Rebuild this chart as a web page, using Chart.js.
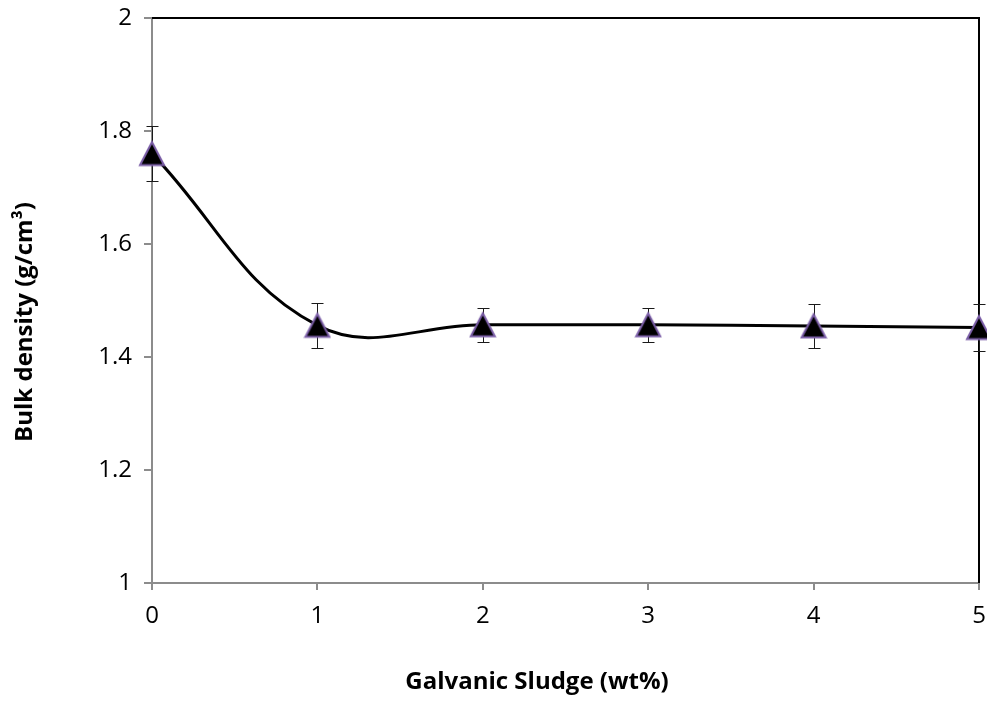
<!DOCTYPE html>
<html>
<head>
<meta charset="utf-8">
<script src="https://cdn.jsdelivr.net/npm/chart.js@4.4.0/dist/chart.umd.min.js"></script>
<style>
  html, body { margin: 0; padding: 0; background: #fff; }
</style>
</head>
<body>
<canvas id="myChart" width="987" height="704"></canvas>
<script>
// 데이터
const sludge = [0, 1, 2, 3, 4, 5];
const density = [1.760, 1.456, 1.457, 1.457, 1.455, 1.452];
const densityErr = [0.049, 0.040, 0.030, 0.030, 0.039, 0.041];
const xTicks = ['0', '1', '2', '3', '4', '5'];
const yTicks = ['1', '1.2', '1.4', '1.6', '1.8', '2'];
const xTitle = 'Galvanic Sludge (wt%)';
const yTitle = 'Bulk density (g/cm³)';

// 삼각형 마커 (검정 채움, 보라 테두리)
function makeTriangle() {
	const c = document.createElement('canvas');
	c.width = 28;
	c.height = 28;
	const g = c.getContext('2d');
	g.beginPath();
	g.moveTo(14, 2.5);
	g.lineTo(26, 25.5);
	g.lineTo(2, 25.5);
	g.closePath();
	g.fillStyle = '#000000';
	g.fill();
	g.lineWidth = 2;
	g.strokeStyle = '#7b5ea7';
	g.stroke();
	return c;
}

// 오차 막대 + 위/오른쪽 테두리
const errorBars = {
	id: 'errorBars',
	beforeDatasetsDraw(chart) {
		const { ctx, chartArea, scales: { x, y } } = chart;
		ctx.save();
		ctx.strokeStyle = '#000000';
		ctx.lineWidth = 2;
		ctx.beginPath();
		ctx.moveTo(chartArea.left, chartArea.top);
		ctx.lineTo(chartArea.right, chartArea.top);
		ctx.lineTo(chartArea.right, chartArea.bottom);
		ctx.stroke();

		ctx.strokeStyle = '#1a1a1a';
		ctx.lineWidth = 1;
		sludge.forEach(function(v, i) {
			const px = Math.round(x.getPixelForValue(v)) + 0.5;
			const top = Math.round(y.getPixelForValue(density[i] + densityErr[i])) + 0.5;
			const bot = Math.round(y.getPixelForValue(density[i] - densityErr[i])) + 0.5;
			ctx.beginPath();
			ctx.moveTo(px, top); ctx.lineTo(px, bot);
			ctx.moveTo(px - 6, top); ctx.lineTo(px + 6, top);
			ctx.moveTo(px - 6, bot); ctx.lineTo(px + 6, bot);
			ctx.stroke();
		});
		ctx.restore();
	}
};

// 축 제목
const axisTitles = {
	id: 'axisTitles',
	afterDraw(chart) {
		const { ctx } = chart;
		ctx.save();
		ctx.fillStyle = '#000000';
		ctx.font = 'bold 24px "Open Sans"';
		ctx.textAlign = 'center';
		ctx.textBaseline = 'middle';
		ctx.fillText(xTitle, 537, 682);
		ctx.translate(25, 322);
		ctx.rotate(-Math.PI / 2);
		ctx.fillText(yTitle, 0, 0);
		ctx.restore();
	}
};

const ctx = document.getElementById('myChart');
window.myChart = new Chart(ctx, {
	type: 'line',
	data: {
		datasets: [{
			data: sludge.map(function(v, i) { return { x: v, y: density[i] }; }),
			borderColor: '#000000',
			borderWidth: 3,
			tension: 0.4,
			fill: false,
			clip: false,
			pointStyle: makeTriangle(), // 이미지 크기로 그려짐 (반지름은 여백 계산용)
			pointRadius: 2,
			pointHoverRadius: 2,
			pointBorderWidth: 0
		}]
	},
	options: {
		responsive: false,
		animation: false,
		layout: { padding: { top: 18, right: 8, left: 0, bottom: 0 } },
		plugins: {
			legend: { display: false },
			tooltip: { enabled: false }
		},
		scales: {
			x: {
				type: 'linear',
				min: 0,
				max: 5,
				afterFit: function(scale) {
					scale.height = 121;
					scale.paddingLeft = 0;
					scale.paddingRight = 0;
				},
				afterBuildTicks: function(scale) {
					scale.ticks = xTicks.map(function(t) { return { value: Number(t) }; });
				},
				border: { color: '#8c8c8c', width: 2 },
				grid: { drawOnChartArea: false, color: '#8c8c8c', lineWidth: 2, tickLength: 7 },
				ticks: {
					color: '#000000',
					padding: 12,
					maxRotation: 0,
					font: { family: '"Open Sans"', size: 24 },
					callback: function(v, i) { return xTicks[i]; }
				}
			},
			y: {
				min: 1,
				max: 2,
				afterFit: function(scale) {
					scale.width = 152;
					scale.paddingTop = 0;
					scale.paddingBottom = 0;
				},
				afterBuildTicks: function(scale) {
					scale.ticks = yTicks.map(function(t) { return { value: Number(t) }; });
				},
				border: { color: '#8c8c8c', width: 2 },
				grid: { drawOnChartArea: false, color: '#8c8c8c', lineWidth: 2, tickLength: 8 },
				ticks: {
					color: '#000000',
					padding: 12,
					font: { family: '"Open Sans"', size: 24 },
					callback: function(v, i) { return yTicks[i]; }
				}
			}
		}
	},
	plugins: [errorBars, axisTitles]
});
</script>
</body>
</html>
